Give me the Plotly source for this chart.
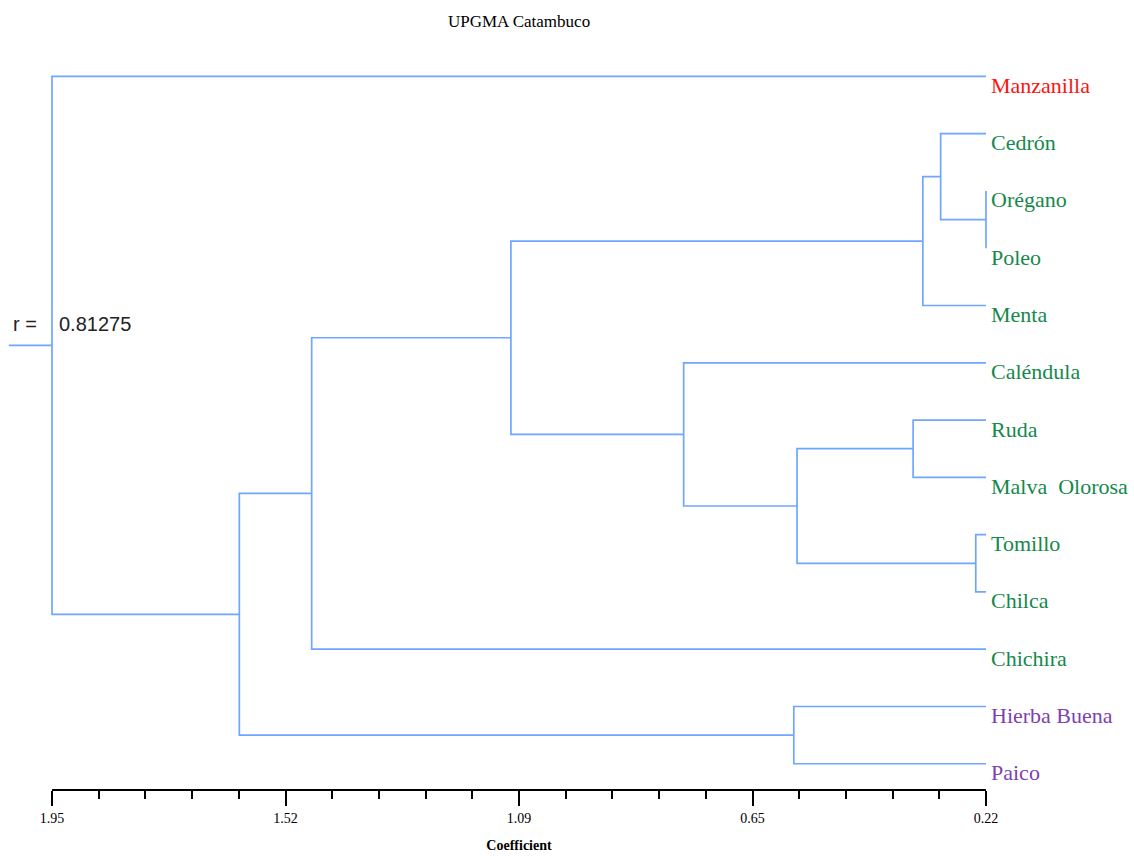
import numpy as np
import plotly.graph_objects as go

# ---- data -----------------------------------------------------------------
LEAVES = ["Manzanilla", "Cedrón", "Orégano", "Poleo", "Menta", "Caléndula",
          "Ruda", "Malva  Olorosa", "Tomillo", "Chilca", "Chichira",
          "Hierba Buena", "Paico"]
LEAF_GROUP = ["red", "green", "green", "green", "green", "green", "green",
              "green", "green", "green", "green", "purple", "purple"]

# UPGMA merges: (child a, child b, coefficient); ids >= 13 are earlier merges
MERGES = [
    (2, 3, 0.22),      # 13 Orégano + Poleo
    (9, 8, 0.239),     # 14 Tomillo + Chilca
    (1, 13, 0.304),    # 15 Cedrón + 13
    (4, 15, 0.337),    # 16 Menta + 15
    (6, 7, 0.355),     # 17 Ruda + Malva Olorosa
    (17, 14, 0.570),   # 18
    (11, 12, 0.576),   # 19 Hierba Buena + Paico
    (5, 18, 0.780),    # 20 Caléndula + 18
    (16, 20, 1.100),   # 21
    (10, 21, 1.469),   # 22 Chichira + 21
    (22, 19, 1.603),   # 23
    (0, 23, 1.95),     # 24 root
]
LEAF_HEIGHT = 0.22
COPHENETIC_R = "0.81275"

TICK_VALUES = [1.95, 1.5175, 1.085, 0.6525, 0.22]
TICK_TEXT = ["1.95", "1.52", "1.09", "0.65", "0.22"]

# ---- style ----------------------------------------------------------------
BRANCH = "#6FA6FF"
GROUP_COLOR = {"red": "#FA1414", "green": "#15884C", "purple": "#7E3FB2"}
SERIF = "Liberation Serif, Times New Roman, serif"
NARROW = "Liberation Sans Narrow, Arial Narrow, Liberation Sans, sans-serif"

W, H = 1134, 857
AX_LEFT_PX, AX_RIGHT_PX = 52, 986          # pixel span of 1.95 .. 0.22
ROW0_PX, ROW_STEP_PX = 76.4, 57.28          # first leaf row, row spacing
AXIS_Y_PX = 790
ROOT_STUB = 0.08

# ---- dendrogram geometry --------------------------------------------------
ypos = {i: float(i) for i in range(len(LEAVES))}
hgt = {i: LEAF_HEIGHT for i in range(len(LEAVES))}
xs, ys = [], []
for k, (a, b, h) in enumerate(MERGES):
    nid = len(LEAVES) + k
    xs += [hgt[a], h, h, hgt[b], None]
    ys += [ypos[a], ypos[a], ypos[b], ypos[b], None]
    ypos[nid] = (ypos[a] + ypos[b]) / 2
    hgt[nid] = h
root = len(LEAVES) + len(MERGES) - 1
xs += [hgt[root], hgt[root] + ROOT_STUB, None]
ys += [ypos[root], ypos[root], None]

px_per_unit = (AX_RIGHT_PX - AX_LEFT_PX) / (TICK_VALUES[0] - TICK_VALUES[-1])
x_lo = TICK_VALUES[0] + AX_LEFT_PX / px_per_unit
x_hi = TICK_VALUES[-1] - (W - AX_RIGHT_PX) / px_per_unit
y_top = -ROW0_PX / ROW_STEP_PX
y_bot = (H - ROW0_PX) / ROW_STEP_PX

fig = go.Figure()
# carrier trace for the coefficient axis (drawn first, underneath)
fig.add_trace(go.Scatter(x=TICK_VALUES, y=[0] * len(TICK_VALUES), xaxis="x2",
                         yaxis="y", mode="markers", marker=dict(opacity=0),
                         hoverinfo="skip", showlegend=False))
fig.add_trace(go.Scatter(x=xs, y=ys, mode="lines",
                         line=dict(color=BRANCH, width=1.7),
                         hoverinfo="skip", showlegend=False))

annotations = []
for i, (name, grp) in enumerate(zip(LEAVES, LEAF_GROUP)):
    annotations.append(dict(x=LEAF_HEIGHT, y=i, xref="x", yref="y", text=name,
                            showarrow=False, xanchor="left", yanchor="middle",
                            xshift=3, yshift=-9,
                            font=dict(family=SERIF, size=22,
                                      color=GROUP_COLOR[grp])))
annotations.append(dict(x=hgt[root], y=ypos[root], xref="x", yref="y",
                        text="r =", showarrow=False, xanchor="right",
                        xshift=-13, yshift=21,
                        font=dict(family=NARROW, size=20, color="#222")))
annotations.append(dict(x=hgt[root], y=ypos[root], xref="x", yref="y",
                        text=COPHENETIC_R, showarrow=False, xanchor="left",
                        xshift=5, yshift=21,
                        font=dict(family=NARROW, size=20, color="#222")))
annotations.append(dict(x=(TICK_VALUES[0] + TICK_VALUES[-1]) / 2, y=1 - 22 / H,
                        xref="x2", yref="paper", text="UPGMA Catambuco",
                        showarrow=False, xanchor="center", yanchor="middle",
                        font=dict(family=SERIF, size=17, color="black")))

minor_vals = []
for a, b in zip(TICK_VALUES[:-1], TICK_VALUES[1:]):
    minor_vals += list(np.linspace(a, b, 6)[1:-1])

fig.update_layout(
    width=W, height=H,
    margin=dict(l=0, r=0, t=0, b=0, pad=0, autoexpand=False),
    plot_bgcolor="rgba(0,0,0,0)", paper_bgcolor="white",
    xaxis=dict(visible=False, range=[x_lo, x_hi], domain=[0, 1]),
    yaxis=dict(visible=False, range=[y_bot, y_top], domain=[0, 1]),
    xaxis2=dict(domain=[AX_LEFT_PX / W, AX_RIGHT_PX / W],
                range=[TICK_VALUES[0], TICK_VALUES[-1]],
                anchor="free", position=1 - AXIS_Y_PX / H, automargin=False,
                showline=True, linecolor="black", linewidth=2,
                showgrid=False, zeroline=False,
                tickmode="array", tickvals=TICK_VALUES, ticktext=TICK_TEXT,
                ticks="outside", ticklen=15, tickwidth=1.5, tickcolor="black",
                minor=dict(tickmode="array", tickvals=minor_vals, ticks="outside",
                           ticklen=8, tickwidth=1.5, tickcolor="black",
                           showgrid=False),
                tickfont=dict(family=SERIF, size=14, color="black"),
                title=dict(text="<b>Coefficient</b>", standoff=14,
                           font=dict(family=SERIF, size=14, color="black"))),
    annotations=annotations,
)

fig.write_html("out.html")
